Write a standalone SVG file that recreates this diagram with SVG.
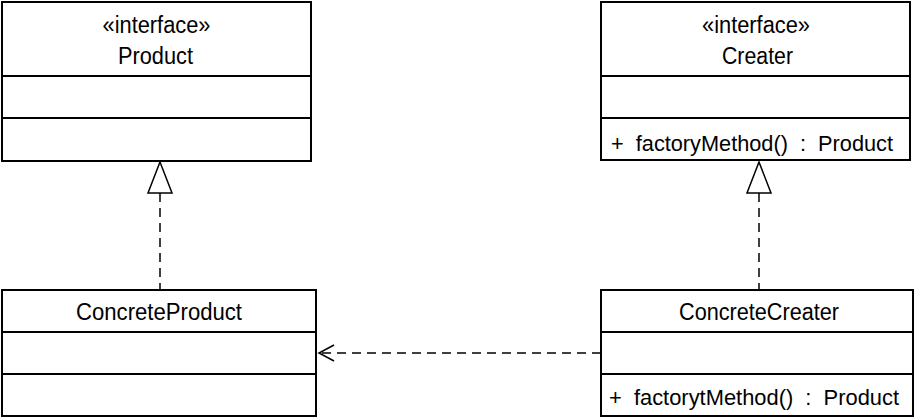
<svg xmlns="http://www.w3.org/2000/svg" width="917" height="419" viewBox="0 0 917 419">
<defs>
<style>
.box{fill:#fff;stroke:#000;stroke-width:2}
.div{stroke:#000;stroke-width:2}
.t{font-family:"Liberation Sans",Arial,sans-serif;font-size:23.5px;fill:#000}
.c{text-anchor:middle}
.pre{white-space:pre;font-size:22.5px}
.dash{stroke:#000;stroke-width:1.5;stroke-dasharray:9,6;fill:none}
.tri{fill:#fff;stroke:#000;stroke-width:1.5}
.head{fill:none;stroke:#000;stroke-width:1.5}
</style>
</defs>
<g id="connectors">
<line class="dash" x1="160" y1="193" x2="160" y2="290"/>
<polygon class="tri" points="160,162 148,193 172,193"/>
<line class="dash" x1="759" y1="193" x2="759" y2="290"/>
<polygon class="tri" points="759,162 747,193 771,193"/>
<line class="dash" x1="601" y1="353" x2="320" y2="353"/>
<polyline class="head" points="334,345 319,353 334,361"/>
</g>
<g id="Product">
<rect class="box" x="2" y="2" width="309" height="159"/>
<line class="div" x1="2" y1="76" x2="311" y2="76"/>
<line class="div" x1="2" y1="118" x2="311" y2="118"/>
<text class="t c" x="156.5" y="33" textLength="108" lengthAdjust="spacingAndGlyphs">«interface»</text>
<text class="t c" x="155.5" y="64" textLength="75" lengthAdjust="spacingAndGlyphs">Product</text>
</g>
<g id="Creater">
<rect class="box" x="601" y="2" width="309" height="158"/>
<line class="div" x1="601" y1="76" x2="910" y2="76"/>
<line class="div" x1="601" y1="118" x2="910" y2="118"/>
<text class="t c" x="756" y="33" textLength="108" lengthAdjust="spacingAndGlyphs">«interface»</text>
<text class="t c" x="757.5" y="64" textLength="71" lengthAdjust="spacingAndGlyphs">Creater</text>
<text class="t pre" x="611" y="151" textLength="282" lengthAdjust="spacingAndGlyphs">+  factoryMethod()  :  Product</text>
</g>
<g id="ConcreteProduct">
<rect class="box" x="2" y="290" width="314" height="126"/>
<line class="div" x1="2" y1="332" x2="316" y2="332"/>
<line class="div" x1="2" y1="374" x2="316" y2="374"/>
<text class="t c" x="159" y="320" textLength="166" lengthAdjust="spacingAndGlyphs">ConcreteProduct</text>
</g>
<g id="ConcreteCreater">
<rect class="box" x="601" y="290" width="312" height="126"/>
<line class="div" x1="601" y1="332" x2="913" y2="332"/>
<line class="div" x1="601" y1="374" x2="913" y2="374"/>
<text class="t c" x="759" y="320" textLength="160" lengthAdjust="spacingAndGlyphs">ConcreteCreater</text>
<text class="t pre" x="609" y="405" textLength="290" lengthAdjust="spacingAndGlyphs">+  factorytMethod()  :  Product</text>
</g>
</svg>
